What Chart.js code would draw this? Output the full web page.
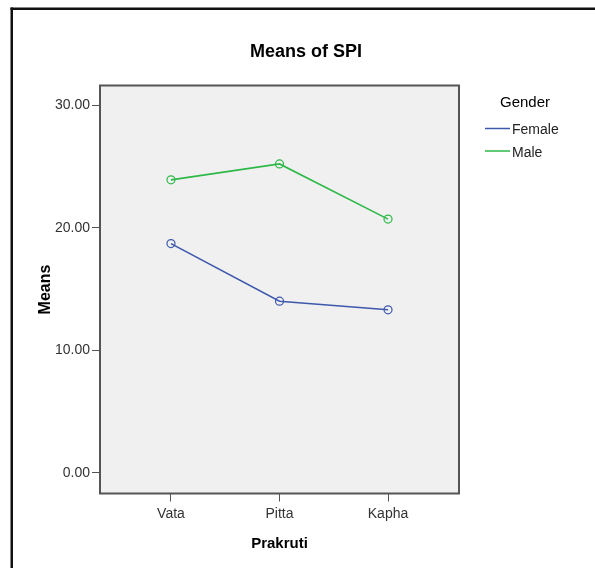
<!DOCTYPE html>
<html>
<head>
<meta charset="utf-8">
<script src="https://cdn.jsdelivr.net/npm/chart.js@4.4.1/dist/chart.umd.min.js"></script>
<style>
  html, body { margin: 0; padding: 0; background: #fff; }
  #wrap { width: 595px; height: 568px; position: relative; }
</style>
</head>
<body>
<div id="wrap"><canvas id="chart" width="595" height="568"></canvas></div>
<script>
/* ── Data ── */
const categories = ['Vata', 'Pitta', 'Kapha'];
const femaleMeans = [18.7, 14.0, 13.3];
const maleMeans = [23.9, 25.2, 20.7];
const yTicks = [0, 10, 20, 30];
const seriesNames = ['Female', 'Male'];

const FONT = "'Liberation Sans', Arial, sans-serif";
const colors = ['#3E58AC', '#2EB848'];

// ── Plot background, frame, title, legend ───
const decorations = {
  id: 'decorations',
  beforeDraw(chart) {
    const { ctx, chartArea: a } = chart;
    ctx.save();
    ctx.fillStyle = '#f0f0f0';
    ctx.fillRect(a.left, a.top, a.right - a.left, a.bottom - a.top);
    // outer frame (left + top edges only are visible)
    ctx.fillStyle = '#111';
    ctx.fillRect(10.5, 7.5, 2.5, 568);
    ctx.fillRect(10.5, 7.5, 595, 2.5);
    ctx.restore();
  },
  afterDraw(chart) {
    const { ctx, chartArea: a } = chart;
    ctx.save();
    ctx.strokeStyle = '#555';
    ctx.lineWidth = 2;
    ctx.strokeRect(a.left, a.top, a.right - a.left, a.bottom - a.top);

    // title
    ctx.fillStyle = '#000';
    ctx.textAlign = 'center';
    ctx.textBaseline = 'alphabetic';
    ctx.font = `bold 18px ${FONT}`;
    ctx.fillText('Means of SPI', 306, 56.5);

    // legend
    ctx.font = `15px ${FONT}`;
    ctx.fillText('Gender', 525, 107);
    ctx.textAlign = 'left';
    ctx.font = `14px ${FONT}`;
    const rows = [128.5, 151];
    chart.data.datasets.forEach((ds, i) => {
      ctx.strokeStyle = ds.borderColor;
      ctx.lineWidth = 1.5;
      ctx.beginPath();
      ctx.moveTo(485, rows[i]);
      ctx.lineTo(510, rows[i]);
      ctx.stroke();
      ctx.fillStyle = '#222';
      ctx.fillText(ds.label, 512, rows[i] + 5.5);
    });
    ctx.restore();
  }
};

function makeSeries(name, values, color) {
  return {
    label: name,
    data: values.map((v, i) => ({ x: i, y: v })),
    borderColor: color,
    backgroundColor: color,
    borderWidth: 1.6,
    tension: 0,
    pointRadius: 4,
    pointBorderWidth: 1.2,
    pointBackgroundColor: 'rgba(0,0,0,0)',
    pointBorderColor: color
  };
}

new Chart(document.getElementById('chart').getContext('2d'), {
  type: 'line',
  data: {
    datasets: [
      makeSeries(seriesNames[0], femaleMeans, colors[0]),
      makeSeries(seriesNames[1], maleMeans, colors[1])
    ]
  },
  options: {
    responsive: false,
    animation: false,
    layout: { padding: { left: 36, top: 85.5, right: 136, bottom: 10 } },
    plugins: {
      legend: { display: false },
      title: { display: false },
      tooltip: { enabled: false }
    },
    scales: {
      x: {
        type: 'linear',
        min: -0.654, max: 2.654,
        afterBuildTicks: s => { s.ticks = categories.map((_, i) => ({ value: i })); },
        afterFit: s => { s.height = 64.5; },
        ticks: {
          callback: v => categories[v],
          autoSkip: false, maxRotation: 0, padding: 4,
          color: '#333', font: { family: FONT, size: 14 }
        },
        grid: { drawOnChartArea: false, tickLength: 8, color: '#555', lineWidth: 1 },
        border: { display: false },
        title: {
          display: true, text: 'Prakruti', color: '#000',
          font: { family: FONT, size: 15, weight: 'bold' },
          padding: { top: 0, bottom: 5.5 }
        }
      },
      y: {
        type: 'linear',
        min: -1.69, max: 31.6,
        afterBuildTicks: s => { s.ticks = yTicks.map(v => ({ value: v })); },
        afterFit: s => { s.width = 64; },
        ticks: {
          callback: v => Number(v).toFixed(2),
          padding: 2, color: '#333', font: { family: FONT, size: 14 }
        },
        grid: { drawOnChartArea: false, tickLength: 8, color: '#555', lineWidth: 1 },
        border: { display: false },
        title: {
          display: true, text: 'Means', color: '#000',
          font: { family: FONT, size: 16, weight: 'bold' },
          padding: { top: 0, bottom: 0 }
        }
      }
    }
  },
  plugins: [decorations]
});
</script>
</body>
</html>
